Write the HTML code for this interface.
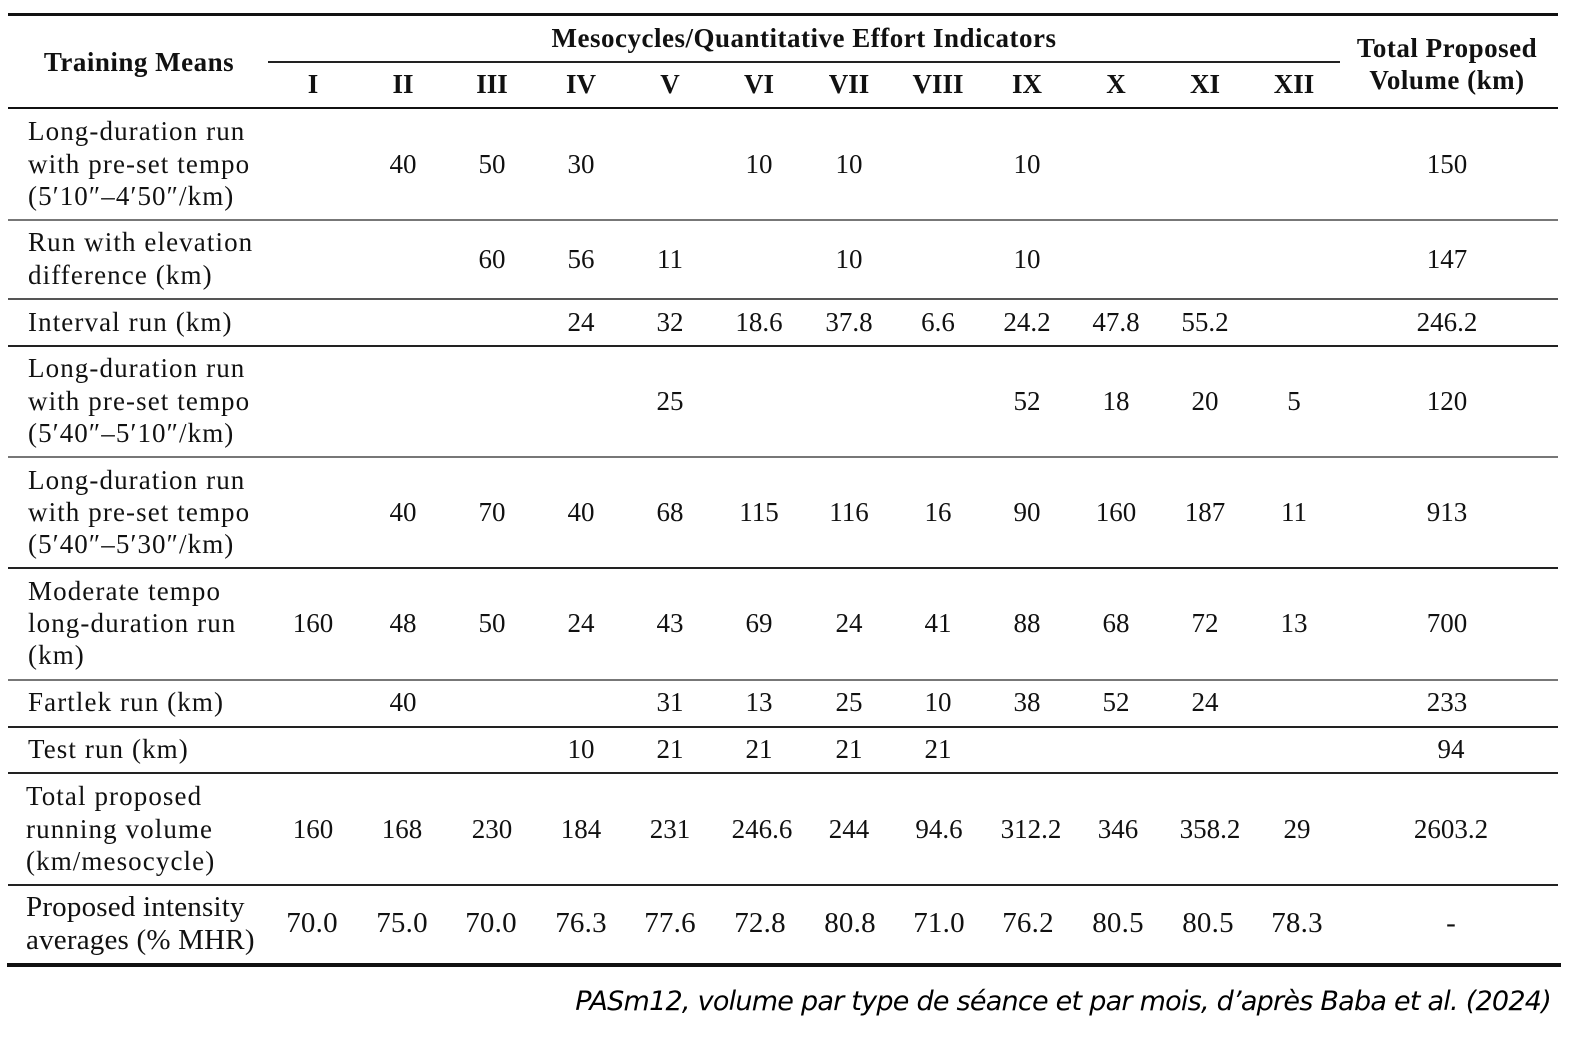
<!DOCTYPE html>
<html><head><meta charset="utf-8">
<style>
html,body{margin:0;padding:0;background:#fff;}
body{width:1582px;height:1044px;position:relative;overflow:hidden;font-family:"Liberation Serif",serif;color:#111;}
.l{position:absolute;left:8px;width:1550px;background:#555;height:1.5px;}
.t{position:absolute;white-space:nowrap;font-size:27px;line-height:32px;letter-spacing:1.1px;}
.c{position:absolute;width:200px;text-align:center;white-space:nowrap;font-size:27px;line-height:32px;}
.b{font-weight:bold;}
.r{font-size:29px;letter-spacing:0.2px;}
.cap{position:absolute;right:31px;top:983px;font-family:"DejaVu Sans","Liberation Sans",sans-serif;font-style:italic;font-size:27px;line-height:38px;color:#000;white-space:nowrap;letter-spacing:-0.75px;}
</style></head><body>
<div class="l" style="top:13px;height:3px;background:#111;"></div>
<div class="l" style="left:268px;width:1072px;top:61px;height:1.5px;background:#222;"></div>
<div class="l" style="top:107px;height:2px;background:#111;"></div>
<div class="l" style="top:219px;background:#777;"></div>
<div class="l" style="top:298px;background:#555;"></div>
<div class="l" style="top:345px;background:#222;"></div>
<div class="l" style="top:456px;background:#777;"></div>
<div class="l" style="top:567px;background:#222;"></div>
<div class="l" style="top:679px;background:#777;"></div>
<div class="l" style="top:726px;background:#222;"></div>
<div class="l" style="top:772px;background:#222;"></div>
<div class="l" style="top:884px;background:#222;"></div>
<div class="l" style="left:7px;width:1554px;top:963px;height:4px;background:#111;"></div>

<div class="c b" style="left:39px;top:46px;width:200px;letter-spacing:0.5px;">Training Means</div>
<div class="c b" style="left:504px;top:22px;width:600px;letter-spacing:0.5px;">Mesocycles/Quantitative Effort Indicators</div>
<div class="c b" style="left:1347px;top:32px;letter-spacing:0.5px;">Total Proposed</div>
<div class="c b" style="left:1347px;top:64px;letter-spacing:0.5px;">Volume (km)</div>
<div class="c b" style="left:213px;top:68px;">I</div>
<div class="c b" style="left:303px;top:68px;">II</div>
<div class="c b" style="left:392px;top:68px;">III</div>
<div class="c b" style="left:481px;top:68px;">IV</div>
<div class="c b" style="left:570px;top:68px;">V</div>
<div class="c b" style="left:659px;top:68px;">VI</div>
<div class="c b" style="left:749px;top:68px;">VII</div>
<div class="c b" style="left:838px;top:68px;">VIII</div>
<div class="c b" style="left:927px;top:68px;">IX</div>
<div class="c b" style="left:1016px;top:68px;">X</div>
<div class="c b" style="left:1105px;top:68px;">XI</div>
<div class="c b" style="left:1194px;top:68px;">XII</div>

<!-- Row 1 -->
<div class="t" style="left:28px;top:115px;">Long-duration run</div>
<div class="t" style="left:28px;top:148px;">with pre-set tempo</div>
<div class="t" style="left:28px;top:180px;">(5′10″–4′50″/km)</div>
<div class="c" style="left:303px;top:148px;">40</div>
<div class="c" style="left:392px;top:148px;">50</div>
<div class="c" style="left:481px;top:148px;">30</div>
<div class="c" style="left:659px;top:148px;">10</div>
<div class="c" style="left:749px;top:148px;">10</div>
<div class="c" style="left:927px;top:148px;">10</div>
<div class="c" style="left:1347px;top:148px;">150</div>

<!-- Row 2 -->
<div class="t" style="left:28px;top:226px;">Run with elevation</div>
<div class="t" style="left:28px;top:259px;">difference (km)</div>
<div class="c" style="left:392px;top:243px;">60</div>
<div class="c" style="left:481px;top:243px;">56</div>
<div class="c" style="left:570px;top:243px;">11</div>
<div class="c" style="left:749px;top:243px;">10</div>
<div class="c" style="left:927px;top:243px;">10</div>
<div class="c" style="left:1347px;top:243px;">147</div>

<!-- Row 3 -->
<div class="t" style="left:28px;top:306px;">Interval run (km)</div>
<div class="c" style="left:481px;top:306px;">24</div>
<div class="c" style="left:570px;top:306px;">32</div>
<div class="c" style="left:659px;top:306px;">18.6</div>
<div class="c" style="left:749px;top:306px;">37.8</div>
<div class="c" style="left:838px;top:306px;">6.6</div>
<div class="c" style="left:927px;top:306px;">24.2</div>
<div class="c" style="left:1016px;top:306px;">47.8</div>
<div class="c" style="left:1105px;top:306px;">55.2</div>
<div class="c" style="left:1347px;top:306px;">246.2</div>

<!-- Row 4 -->
<div class="t" style="left:28px;top:352px;">Long-duration run</div>
<div class="t" style="left:28px;top:385px;">with pre-set tempo</div>
<div class="t" style="left:28px;top:417px;">(5′40″–5′10″/km)</div>
<div class="c" style="left:570px;top:385px;">25</div>
<div class="c" style="left:927px;top:385px;">52</div>
<div class="c" style="left:1016px;top:385px;">18</div>
<div class="c" style="left:1105px;top:385px;">20</div>
<div class="c" style="left:1194px;top:385px;">5</div>
<div class="c" style="left:1347px;top:385px;">120</div>

<!-- Row 5 -->
<div class="t" style="left:28px;top:464px;">Long-duration run</div>
<div class="t" style="left:28px;top:496px;">with pre-set tempo</div>
<div class="t" style="left:28px;top:528px;">(5′40″–5′30″/km)</div>
<div class="c" style="left:303px;top:496px;">40</div>
<div class="c" style="left:392px;top:496px;">70</div>
<div class="c" style="left:481px;top:496px;">40</div>
<div class="c" style="left:570px;top:496px;">68</div>
<div class="c" style="left:659px;top:496px;">115</div>
<div class="c" style="left:749px;top:496px;">116</div>
<div class="c" style="left:838px;top:496px;">16</div>
<div class="c" style="left:927px;top:496px;">90</div>
<div class="c" style="left:1016px;top:496px;">160</div>
<div class="c" style="left:1105px;top:496px;">187</div>
<div class="c" style="left:1194px;top:496px;">11</div>
<div class="c" style="left:1347px;top:496px;">913</div>

<!-- Row 6 -->
<div class="t" style="left:28px;top:575px;">Moderate tempo</div>
<div class="t" style="left:28px;top:607px;">long-duration run</div>
<div class="t" style="left:28px;top:639px;">(km)</div>
<div class="c" style="left:213px;top:607px;">160</div>
<div class="c" style="left:303px;top:607px;">48</div>
<div class="c" style="left:392px;top:607px;">50</div>
<div class="c" style="left:481px;top:607px;">24</div>
<div class="c" style="left:570px;top:607px;">43</div>
<div class="c" style="left:659px;top:607px;">69</div>
<div class="c" style="left:749px;top:607px;">24</div>
<div class="c" style="left:838px;top:607px;">41</div>
<div class="c" style="left:927px;top:607px;">88</div>
<div class="c" style="left:1016px;top:607px;">68</div>
<div class="c" style="left:1105px;top:607px;">72</div>
<div class="c" style="left:1194px;top:607px;">13</div>
<div class="c" style="left:1347px;top:607px;">700</div>

<!-- Row 7 -->
<div class="t" style="left:28px;top:686px;">Fartlek run (km)</div>
<div class="c" style="left:303px;top:686px;">40</div>
<div class="c" style="left:570px;top:686px;">31</div>
<div class="c" style="left:659px;top:686px;">13</div>
<div class="c" style="left:749px;top:686px;">25</div>
<div class="c" style="left:838px;top:686px;">10</div>
<div class="c" style="left:927px;top:686px;">38</div>
<div class="c" style="left:1016px;top:686px;">52</div>
<div class="c" style="left:1105px;top:686px;">24</div>
<div class="c" style="left:1347px;top:686px;">233</div>

<!-- Row 8 -->
<div class="t" style="left:28px;top:733px;">Test run (km)</div>
<div class="c" style="left:481px;top:733px;">10</div>
<div class="c" style="left:570px;top:733px;">21</div>
<div class="c" style="left:659px;top:733px;">21</div>
<div class="c" style="left:749px;top:733px;">21</div>
<div class="c" style="left:838px;top:733px;">21</div>
<div class="c" style="left:1351px;top:733px;">94</div>

<!-- Row 9 -->
<div class="t" style="left:26px;top:780px;">Total proposed</div>
<div class="t" style="left:26px;top:813px;">running volume</div>
<div class="t" style="left:26px;top:845px;">(km/mesocycle)</div>
<div class="c" style="left:213px;top:813px;">160</div>
<div class="c" style="left:302px;top:813px;">168</div>
<div class="c" style="left:392px;top:813px;">230</div>
<div class="c" style="left:481px;top:813px;">184</div>
<div class="c" style="left:570px;top:813px;">231</div>
<div class="c" style="left:662px;top:813px;">246.6</div>
<div class="c" style="left:749px;top:813px;">244</div>
<div class="c" style="left:839px;top:813px;">94.6</div>
<div class="c" style="left:931px;top:813px;">312.2</div>
<div class="c" style="left:1018px;top:813px;">346</div>
<div class="c" style="left:1110px;top:813px;">358.2</div>
<div class="c" style="left:1197px;top:813px;">29</div>
<div class="c" style="left:1351px;top:813px;">2603.2</div>

<!-- Row 10 -->
<div class="t r" style="left:26px;top:891px;">Proposed intensity</div>
<div class="t r" style="left:26px;top:924px;">averages (% MHR)</div>
<div class="c r" style="left:212px;top:907px;">70.0</div>
<div class="c r" style="left:302px;top:907px;">75.0</div>
<div class="c r" style="left:391px;top:907px;">70.0</div>
<div class="c r" style="left:481px;top:907px;">76.3</div>
<div class="c r" style="left:570px;top:907px;">77.6</div>
<div class="c r" style="left:660px;top:907px;">72.8</div>
<div class="c r" style="left:750px;top:907px;">80.8</div>
<div class="c r" style="left:839px;top:907px;">71.0</div>
<div class="c r" style="left:928px;top:907px;">76.2</div>
<div class="c r" style="left:1018px;top:907px;">80.5</div>
<div class="c r" style="left:1108px;top:907px;">80.5</div>
<div class="c r" style="left:1197px;top:907px;">78.3</div>
<div class="c r" style="left:1351px;top:907px;">-</div>

<div class="cap">PASm12, volume par type de séance et par mois, d’après Baba et al. (2024)</div>
</body></html>
